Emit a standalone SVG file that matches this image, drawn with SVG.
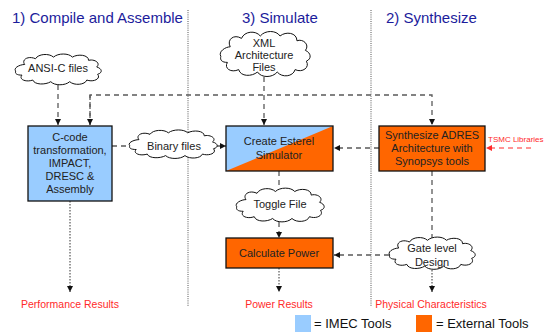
<svg xmlns="http://www.w3.org/2000/svg" xmlns:xlink="http://www.w3.org/1999/xlink" width="546" height="334" viewBox="0 0 546 334">
  <style>
    .title { font-family: "Liberation Sans", Arial, sans-serif; font-size: 15px; fill: #1c1c9c; }
    .lbl { font-family: "Liberation Sans", Arial, sans-serif; font-size: 11px; fill: #222; text-anchor: middle; }
    .res { font-family: "Liberation Sans", Arial, sans-serif; font-size: 10.5px; fill: #ff2a2a; text-anchor: middle; }
    .leg { font-family: "Liberation Sans", Arial, sans-serif; font-size: 13px; fill: #111; }
    .box { stroke: #111; stroke-width: 1.3; }
    .imec { fill: #99ccff; }
    .ext { fill: #ff6600; }
    .cloud { fill: #fff; stroke: #111; stroke-width: 1; vector-effect: non-scaling-stroke; }
    .dash { fill: none; stroke: #5a5a5a; stroke-width: 1.3; stroke-dasharray: 5 4; }
    .dot { fill: none; stroke: #333; stroke-width: 1; stroke-dasharray: 1.5 1.5; }
    .divider { fill: none; stroke: #555; stroke-width: 1; stroke-dasharray: 1 1.2; }
    .reddash { fill: none; stroke: #ff2a2a; stroke-width: 1.2; stroke-dasharray: 5 4; }
  </style>
  <defs>
    <path id="cloudShape" class="cloud" d="M3,22 C0,18 8,14 13,14 C9,8 17,3 25,7 C28,1 40,0 45,5 C50,0 62,0 66,5 C72,1 84,2 84,9 C90,7 98,12 93,17 C99,19 100,24 94,26 C98,31 90,36 82,33 C80,39 68,40 63,35 C58,40 46,40 42,35 C36,39 24,39 22,33 C14,36 6,32 10,27 C4,27 2,25 3,22 Z"/>
    <marker id="arrow" viewBox="0 0 10 10" refX="10" refY="5" markerWidth="6" markerHeight="6" markerUnits="userSpaceOnUse" orient="auto">
      <path d="M0,0 L10,5 L0,10 Z" fill="#111"/>
    </marker>
    <marker id="arrowRed" viewBox="0 0 10 10" refX="10" refY="5" markerWidth="6" markerHeight="6" markerUnits="userSpaceOnUse" orient="auto">
      <path d="M0,0 L10,5 L0,10 Z" fill="#ff2a2a"/>
    </marker>
  </defs>

  <rect width="546" height="334" fill="#fff"/>

  <!-- column dividers -->
  <line class="divider" x1="188" y1="10" x2="188" y2="307"/>
  <line class="divider" x1="371" y1="10" x2="371" y2="307"/>

  <!-- column headings -->
  <text class="title" x="12" y="23">1) Compile and Assemble</text>
  <text class="title" x="242" y="23">3) Simulate</text>
  <text class="title" x="386" y="23">2) Synthesize</text>

  <!-- connectors -->
  <g id="connectors">
    <line class="dash" x1="58" y1="85" x2="58" y2="125" marker-end="url(#arrow)"/>
    <polyline class="dash" points="264,77 264,95"/>
    <polyline class="dash" points="90,125 90,95 432,95 432,125" marker-end="url(#arrow)"/>
    <line class="dash" x1="90" y1="95" x2="90" y2="125" marker-end="url(#arrow)"/>
    <line class="dash" x1="264" y1="95" x2="264" y2="125" marker-end="url(#arrow)"/>
    <line class="dash" x1="112" y1="146" x2="130" y2="146"/>
    <line class="dash" x1="216" y1="146" x2="226" y2="146" marker-end="url(#arrow)"/>
    <line class="dash" x1="379" y1="148" x2="334" y2="148" marker-end="url(#arrow)"/>
    <line class="reddash" x1="531" y1="148" x2="486" y2="148" marker-end="url(#arrowRed)"/>
    <line class="dash" x1="279" y1="171" x2="279" y2="189"/>
    <line class="dash" x1="279" y1="222" x2="279" y2="238" marker-end="url(#arrow)"/>
    <line class="dash" x1="432" y1="171" x2="432" y2="238"/>
    <line class="dash" x1="389" y1="255" x2="334" y2="255" marker-end="url(#arrow)"/>
    <line class="dot" x1="70" y1="201" x2="70" y2="292" marker-end="url(#arrow)"/>
    <line class="dot" x1="279" y1="268" x2="279" y2="292" marker-end="url(#arrow)"/>
    <line class="dot" x1="432" y1="270" x2="432" y2="292" marker-end="url(#arrow)"/>
  </g>

  <!-- data clouds -->
  <g id="ansi-c">
    <use xlink:href="#cloudShape" href="#cloudShape" transform="translate(13,53) scale(0.9,0.82)"/>
    <text class="lbl" x="58" y="72">ANSI-C files</text>
  </g>
  <g id="xml-files">
    <use xlink:href="#cloudShape" href="#cloudShape" transform="translate(218,30) scale(0.94,1.2)"/>
    <text class="lbl" x="264" y="47">XML</text>
    <text class="lbl" x="264" y="59">Architecture</text>
    <text class="lbl" x="264" y="71">Files</text>
  </g>
  <g id="binary-files">
    <use xlink:href="#cloudShape" href="#cloudShape" transform="translate(127,129) scale(0.92,0.76)"/>
    <text class="lbl" x="174" y="150">Binary files</text>
  </g>
  <g id="toggle-file">
    <use xlink:href="#cloudShape" href="#cloudShape" transform="translate(234,187) scale(0.92,0.9)"/>
    <text class="lbl" x="280" y="208">Toggle File</text>
  </g>
  <g id="gate-level">
    <use xlink:href="#cloudShape" href="#cloudShape" transform="translate(387,236) scale(0.9,0.86)"/>
    <text class="lbl" x="432" y="252">Gate level</text>
    <text class="lbl" x="432" y="266">Design</text>
  </g>

  <!-- tool boxes -->
  <g id="compile">
    <rect class="box imec" x="28" y="126" width="84" height="75"/>
    <text class="lbl" x="70" y="141">C-code</text>
    <text class="lbl" x="70" y="154">transformation,</text>
    <text class="lbl" x="70" y="167">IMPACT,</text>
    <text class="lbl" x="70" y="180">DRESC &amp;</text>
    <text class="lbl" x="70" y="193">Assembly</text>
  </g>
  <g id="esterel">
    <rect class="imec" x="226" y="126" width="107" height="45"/>
    <polygon class="ext" points="333,126 333,171 226,171"/>
    <rect class="box" x="226" y="126" width="107" height="45" fill="none"/>
    <text class="lbl" x="279" y="145">Create Esterel</text>
    <text class="lbl" x="279" y="159">Simulator</text>
  </g>
  <g id="synthesize">
    <rect class="box ext" x="379" y="126" width="106" height="45"/>
    <text class="lbl" x="432" y="139">Synthesize ADRES</text>
    <text class="lbl" x="432" y="152">Architecture with</text>
    <text class="lbl" x="432" y="165">Synopsys tools</text>
  </g>
  <g id="calc-power">
    <rect class="box ext" x="226" y="238" width="107" height="30"/>
    <text class="lbl" x="279" y="257">Calculate Power</text>
  </g>

  <!-- library input -->
  <text id="tsmc" x="488" y="142" style="font-family: 'Liberation Sans', Arial, sans-serif; font-size: 8px; fill: #ff2a2a;">TSMC Libraries</text>

  <!-- outputs -->
  <text class="res" x="70" y="308">Performance Results</text>
  <text class="res" x="279" y="308">Power Results</text>
  <text class="res" x="431" y="308">Physical Characteristics</text>

  <!-- legend -->
  <g id="legend">
    <rect class="imec" x="295" y="315" width="16" height="17"/>
    <text class="leg" x="314" y="328">= IMEC Tools</text>
    <rect class="ext" x="416" y="315" width="16" height="17"/>
    <text class="leg" x="436" y="328">= External Tools</text>
  </g>
</svg>
